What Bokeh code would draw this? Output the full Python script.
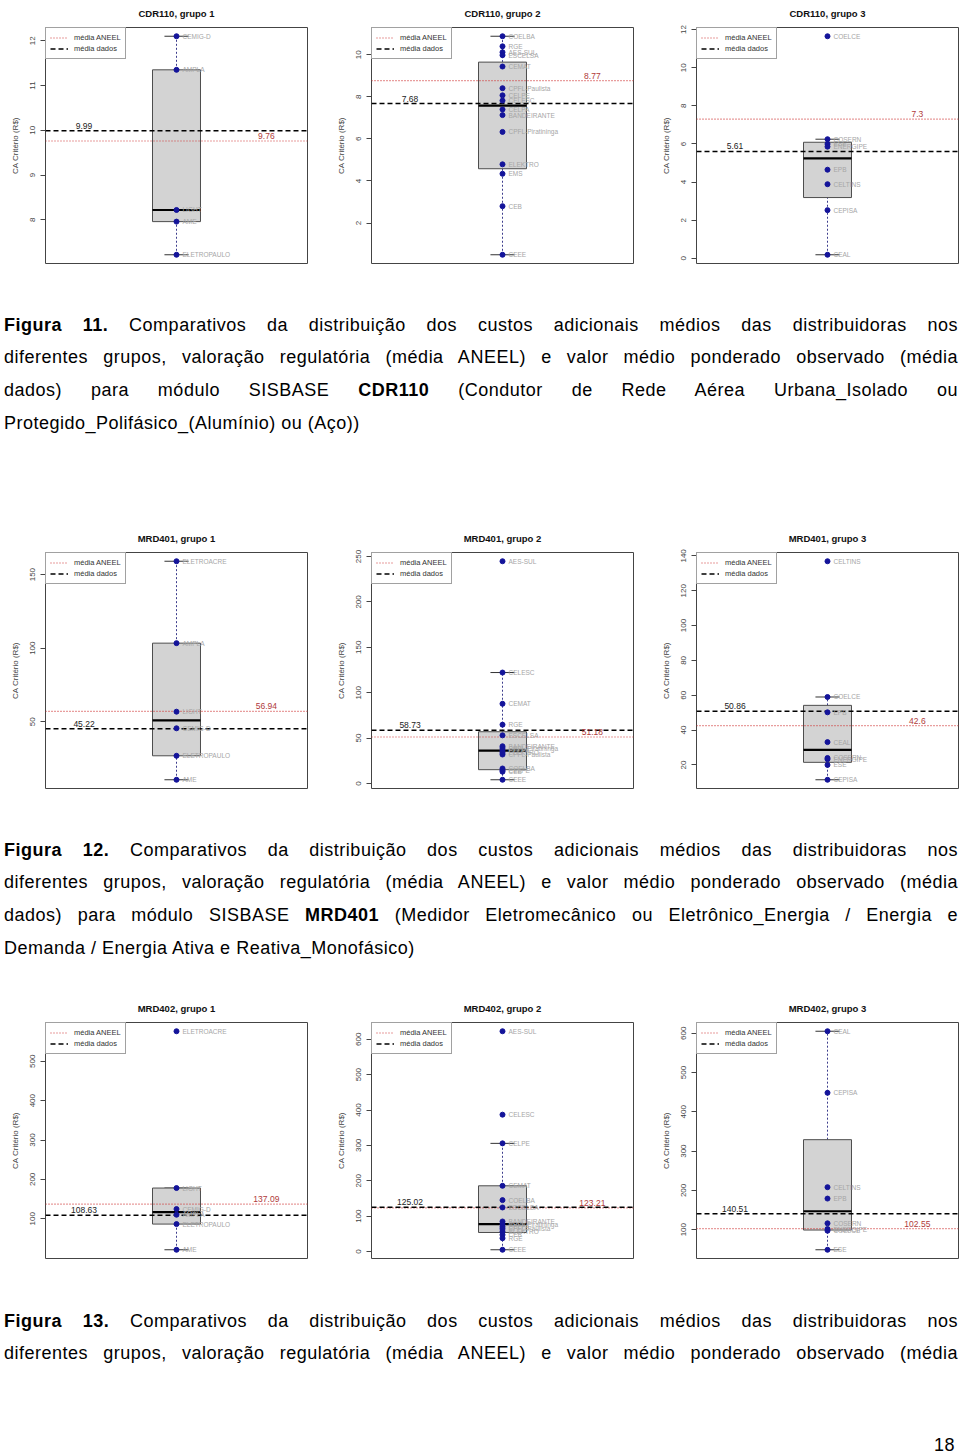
from bokeh.plotting import figure
from bokeh.models import Range1d, FixedTicker, Legend, LegendItem, Div
from bokeh.layouts import column, row
from bokeh.embed import file_html
from bokeh.resources import INLINE
from bokeh.core.properties import value

FONT = "Liberation Sans"
Y_LABEL = "CA Critério (R$)"
LEGEND_LABELS = ["média ANEEL", "média dados"]

# ---------------- CDR110 ----------------
CDR_G1_TITLE = "CDR110, grupo 1"
CDR_G1_NAMES = ["CEMIG-D", "AMPLA", "LIGHT", "AME", "ELETROPAULO"]
CDR_G1_VALS = [12.10, 11.35, 8.22, 7.96, 7.22]
CDR_G1_BOX = [7.22, 7.96, 8.22, 11.35, 12.10]
CDR_G1_MEANS = [9.99, 9.76]          # média dados, média ANEEL
CDR_G1_TICKS = [8, 9, 10, 11, 12]

CDR_G2_TITLE = "CDR110, grupo 2"
CDR_G2_NAMES = ["COELBA", "RGE", "AES-SUL", "ESCELSA", "CEMAT", "CPFL-Paulista", "CELPE",
                "CELESC", "CELPA", "BANDEIRANTE", "CPFL-Piratininga", "ELEKTRO", "EMS", "CEB", "CEEE"]
CDR_G2_VALS = [10.88, 10.40, 10.12, 9.98, 9.44, 8.41, 8.07, 7.82, 7.40, 7.13, 6.33, 4.79, 4.34, 2.80, 0.49]
CDR_G2_BOX = [0.49, 4.58, 7.58, 9.65, 10.88]
CDR_G2_MEANS = [7.68, 8.77]
CDR_G2_TICKS = [2, 4, 6, 8, 10]

CDR_G3_TITLE = "CDR110, grupo 3"
CDR_G3_NAMES = ["COELCE", "COSERN", "ESE", "ENERGIPE", "EPB", "CELTINS", "CEPISA", "CEAL"]
CDR_G3_VALS = [11.65, 6.25, 6.00, 5.86, 4.65, 3.89, 2.53, 0.19]
CDR_G3_BOX = [0.19, 3.19, 5.25, 6.09, 6.25]
CDR_G3_MEANS = [5.61, 7.3]
CDR_G3_TICKS = [0, 2, 4, 6, 8, 10, 12]

# ---------------- MRD401 ----------------
MRD401_G1_TITLE = "MRD401, grupo 1"
MRD401_G1_NAMES = ["ELETROACRE", "AMPLA", "LIGHT", "CEMIG-D", "ELETROPAULO", "AME"]
MRD401_G1_VALS = [159.1, 103.4, 56.8, 45.5, 26.8, 10.5]
MRD401_G1_BOX = [10.5, 26.8, 50.9, 103.4, 159.1]
MRD401_G1_MEANS = [45.22, 56.94]
MRD401_G1_TICKS = [50, 100, 150]

MRD401_G2_TITLE = "MRD401, grupo 2"
MRD401_G2_NAMES = ["AES-SUL", "CELESC", "CEMAT", "RGE", "ESCELSA", "BANDEIRANTE", "CPFL-Piratininga",
                   "CELPA", "ELEKTRO", "CPFL-Paulista", "COELBA", "CELPE", "CEB", "CEEE"]
MRD401_G2_VALS = [244.8, 122.2, 87.8, 64.8, 53.0, 41.0, 39.0, 36.5, 33.8, 31.9, 16.5, 14.5, 13.0, 4.1]
MRD401_G2_BOX = [4.1, 15.2, 36.3, 57.0, 122.2]
MRD401_G2_MEANS = [58.73, 51.18]
MRD401_G2_TICKS = [0, 50, 100, 150, 200, 250]

MRD401_G3_TITLE = "MRD401, grupo 3"
MRD401_G3_NAMES = ["CELTINS", "COELCE", "EPB", "CEAL", "COSERN", "ENERGIPE", "ESE", "CEPISA"]
MRD401_G3_VALS = [136.9, 59.0, 50.2, 33.1, 24.0, 23.3, 20.0, 11.5]
MRD401_G3_BOX = [11.5, 21.5, 28.7, 54.2, 59.0]
MRD401_G3_MEANS = [50.86, 42.6]
MRD401_G3_TICKS = [20, 40, 60, 80, 100, 120, 140]

# ---------------- MRD402 ----------------
MRD402_G1_TITLE = "MRD402, grupo 1"
MRD402_G1_NAMES = ["ELETROACRE", "LIGHT", "CEMIG-D", "AMPLA", "ELETROPAULO", "AME"]
MRD402_G1_VALS = [576.3, 178.0, 124.6, 110.2, 86.4, 21.2]
MRD402_G1_BOX = [21.2, 86.4, 117.0, 178.0, 178.0]
MRD402_G1_MEANS = [108.63, 137.09]
MRD402_G1_TICKS = [100, 200, 300, 400, 500]

MRD402_G2_TITLE = "MRD402, grupo 2"
MRD402_G2_NAMES = ["AES-SUL", "CELESC", "CELPE", "CEMAT", "COELBA", "ESCELSA", "BANDEIRANTE",
                   "CPFL-Piratininga", "CELPA", "CPFL-Paulista", "ELEKTRO", "CEB", "RGE", "CEEE"]
MRD402_G2_VALS = [622.6, 386.8, 305.7, 185.8, 145.3, 124.5, 84.9, 77.4, 69.8, 64.2, 56.6, 47.2, 37.7, 5.0]
MRD402_G2_BOX = [5.0, 53.8, 77.4, 185.8, 305.7]
MRD402_G2_MEANS = [125.02, 123.21]
MRD402_G2_TICKS = [0, 100, 200, 300, 400, 500, 600]

MRD402_G3_TITLE = "MRD402, grupo 3"
MRD402_G3_NAMES = ["CEAL", "CEPISA", "CELTINS", "EPB", "COSERN", "ENERGIPE", "COELCE", "ESE"]
MRD402_G3_VALS = [605.1, 448.4, 208.2, 179.2, 116.2, 101.7, 97.4, 48.9]
MRD402_G3_BOX = [48.9, 99.1, 146.9, 329.1, 605.1]
MRD402_G3_MEANS = [140.51, 102.55]
MRD402_G3_TICKS = [100, 200, 300, 400, 500, 600]

# ---------------- styles ----------------
X_LO, X_HI = 0.5, 1.5
BOX_X = 1.0
BOX_HALF = 0.0916
CAP_HALF = 0.046
LBL_LEFT_X = 0.647
LBL_RIGHT_X = 1.343
RED_LINE = "#d03a3a"
RED_TEXT = "#b03a3a"
POINT_COLOR = "#14149a"
WHISKER_COLOR = "#3c3c8c"
AXIS_COLOR = "#444444"
NAME_COLOR = "#a6a6a6"


def make_panel(title, names, vals, box, means, ticks, width, left, right):
    lo = min(vals + box)
    hi = max(vals + box)
    pad = 0.04 * (hi - lo)
    p = figure(width=width, height=290, x_range=Range1d(X_LO, X_HI),
               y_range=Range1d(lo - pad, hi + pad),
               output_backend="svg", toolbar_location=None, x_axis_location=None,
               min_border_left=left, min_border_right=right,
               min_border_top=27, min_border_bottom=27)
    p.xgrid.visible = False
    p.ygrid.visible = False
    p.outline_line_color = AXIS_COLOR
    p.outline_line_width = 1
    p.background_fill_color = "white"
    p.border_fill_color = "white"

    p.title.text = title
    p.title.align = "center"
    p.title.vertical_align = "top"
    p.title.text_font = FONT
    p.title.text_font_size = "9.5px"
    p.title.text_font_style = "bold"
    p.title.text_color = "#111111"
    p.title.standoff = 14

    ax = p.yaxis[0]
    ax.ticker = FixedTicker(ticks=ticks)
    ax.major_label_orientation = "vertical"
    ax.axis_line_color = None
    ax.major_tick_out = 5
    ax.major_tick_in = 0
    ax.major_tick_line_color = AXIS_COLOR
    ax.minor_tick_line_color = None
    ax.major_label_standoff = 5
    ax.major_label_text_font = FONT
    ax.major_label_text_font_size = "8px"
    ax.major_label_text_color = AXIS_COLOR
    ax.axis_label = Y_LABEL
    ax.axis_label_text_font = FONT
    ax.axis_label_text_font_size = "8px"
    ax.axis_label_text_font_style = "normal"
    ax.axis_label_text_color = AXIS_COLOR
    ax.axis_label_standoff = 8

    # whiskers
    p.segment(x0=[BOX_X, BOX_X], x1=[BOX_X, BOX_X], y0=[box[0], box[3]], y1=[box[1], box[4]],
              line_color=WHISKER_COLOR, line_dash="2 2", line_width=1)
    p.segment(x0=[BOX_X - CAP_HALF] * 2, x1=[BOX_X + CAP_HALF] * 2,
              y0=[box[0], box[4]], y1=[box[0], box[4]], line_color="#333333", line_width=1)
    # box
    p.quad(left=[BOX_X - BOX_HALF], right=[BOX_X + BOX_HALF], bottom=[box[1]], top=[box[3]],
           fill_color="#d3d3d3", line_color="#4d4d4d", line_width=1)
    p.segment(x0=[BOX_X - BOX_HALF], x1=[BOX_X + BOX_HALF], y0=[box[2]], y1=[box[2]],
              line_color="black", line_width=2.2)

    # mean lines (across the whole x range), also used for the legend
    dados, aneel = means
    r_aneel = p.line(x=[X_LO, X_HI], y=[aneel, aneel], line_color=RED_LINE,
                     line_dash="1 2", line_width=1.2)
    r_dados = p.line(x=[X_LO, X_HI], y=[dados, dados], line_color="black",
                     line_dash="5 3", line_width=1.5)

    # points + names
    p.scatter(x=[BOX_X] * len(vals), y=vals, size=5, fill_color=POINT_COLOR,
              line_color=POINT_COLOR, marker="circle")
    p.text(x=[BOX_X] * len(vals), y=vals, text=names, x_offset=6, text_baseline="middle",
           text_align="left", text_font=value(FONT), text_font_size="6.5px", text_color=NAME_COLOR)

    # mean labels
    p.text(x=[LBL_LEFT_X], y=[dados], text=[str(dados)], text_align="center",
           text_baseline="bottom", y_offset=-2, text_font=value(FONT),
           text_font_size="8.5px", text_color="#222222")
    p.text(x=[LBL_RIGHT_X], y=[aneel], text=[str(aneel)], text_align="center",
           text_baseline="bottom", y_offset=-2, text_font=value(FONT),
           text_font_size="8.5px", text_color=RED_TEXT)

    # legend
    leg = Legend(items=[LegendItem(label=LEGEND_LABELS[0], renderers=[r_aneel]),
                        LegendItem(label=LEGEND_LABELS[1], renderers=[r_dados])],
                 location="top_left", margin=0, padding=4, spacing=0,
                 glyph_width=18, glyph_height=11, label_height=11, label_standoff=6,
                 label_text_font=FONT, label_text_font_size="7.5px",
                 label_text_color="#333333", border_line_color=AXIS_COLOR,
                 background_fill_color="white", background_fill_alpha=1)
    p.add_layout(leg)
    return p


def panel_row(specs):
    geoms = [(325, 45, 18), (325, 46, 17), (310, 46, 2)]
    figs = [make_panel(*s, *g) for s, g in zip(specs, geoms)]
    return row(*figs, spacing=0)


row1 = panel_row([
    (CDR_G1_TITLE, CDR_G1_NAMES, CDR_G1_VALS, CDR_G1_BOX, CDR_G1_MEANS, CDR_G1_TICKS),
    (CDR_G2_TITLE, CDR_G2_NAMES, CDR_G2_VALS, CDR_G2_BOX, CDR_G2_MEANS, CDR_G2_TICKS),
    (CDR_G3_TITLE, CDR_G3_NAMES, CDR_G3_VALS, CDR_G3_BOX, CDR_G3_MEANS, CDR_G3_TICKS),
])
row2 = panel_row([
    (MRD401_G1_TITLE, MRD401_G1_NAMES, MRD401_G1_VALS, MRD401_G1_BOX, MRD401_G1_MEANS, MRD401_G1_TICKS),
    (MRD401_G2_TITLE, MRD401_G2_NAMES, MRD401_G2_VALS, MRD401_G2_BOX, MRD401_G2_MEANS, MRD401_G2_TICKS),
    (MRD401_G3_TITLE, MRD401_G3_NAMES, MRD401_G3_VALS, MRD401_G3_BOX, MRD401_G3_MEANS, MRD401_G3_TICKS),
])
row3 = panel_row([
    (MRD402_G1_TITLE, MRD402_G1_NAMES, MRD402_G1_VALS, MRD402_G1_BOX, MRD402_G1_MEANS, MRD402_G1_TICKS),
    (MRD402_G2_TITLE, MRD402_G2_NAMES, MRD402_G2_VALS, MRD402_G2_BOX, MRD402_G2_MEANS, MRD402_G2_TICKS),
    (MRD402_G3_TITLE, MRD402_G3_NAMES, MRD402_G3_VALS, MRD402_G3_BOX, MRD402_G3_MEANS, MRD402_G3_TICKS),
])

CAP11_LINES = [
    ("<b>Figura 11.</b> Comparativos da distribuição dos custos adicionais médios das distribuidoras nos", "justify"),
    ("diferentes grupos, valoração regulatória (média ANEEL) e valor médio ponderado observado (média", "justify"),
    ("dados) para módulo SISBASE <b>CDR110</b> (Condutor de Rede Aérea Urbana_Isolado ou", "justify"),
    ("Protegido_Polifásico_(Alumínio) ou (Aço))", "left"),
]
CAP12_LINES = [
    ("<b>Figura 12.</b> Comparativos da distribuição dos custos adicionais médios das distribuidoras nos", "justify"),
    ("diferentes grupos, valoração regulatória (média ANEEL) e valor médio ponderado observado (média", "justify"),
    ("dados) para módulo SISBASE <b>MRD401</b> (Medidor Eletromecânico ou Eletrônico_Energia / Energia e", "justify"),
    ("Demanda / Energia Ativa e Reativa_Monofásico)", "left"),
]
CAP13_LINES = [
    ("<b>Figura 13.</b> Comparativos da distribuição dos custos adicionais médios das distribuidoras nos", "justify"),
    ("diferentes grupos, valoração regulatória (média ANEEL) e valor médio ponderado observado (média", "justify"),
]
PAGE_NUMBER = "18"


def caption(lines, pad_top, height, tail=""):
    html = ('<div style="width:954px;margin-left:4px;padding-top:%.2fpx;'
            "font-family:'Liberation Sans',Arial,sans-serif;font-size:18px;"
            'line-height:32.7px;letter-spacing:0.5px;color:#000;">' % pad_top)
    for txt, mode in lines:
        html += ('<div style="text-align:justify;text-align-last:%s;">%s</div>'
                 % (mode, txt))
    html += tail + "</div>"
    return Div(text=html, width=960, height=height, margin=0)


div11 = caption(CAP11_LINES, 18.5, 235)
div12 = caption(CAP12_LINES, 18.6, 180)
tail13 = ('<div style="text-align:right;margin-top:58.6px;padding-right:3px;">%s</div>'
          % PAGE_NUMBER)
div13 = caption(CAP13_LINES, 19.6, 171, tail13)

page = column(row1, div11, row2, div12, row3, div13, spacing=0)

with open("out.html", "w") as f:
    f.write(file_html(page, INLINE))
